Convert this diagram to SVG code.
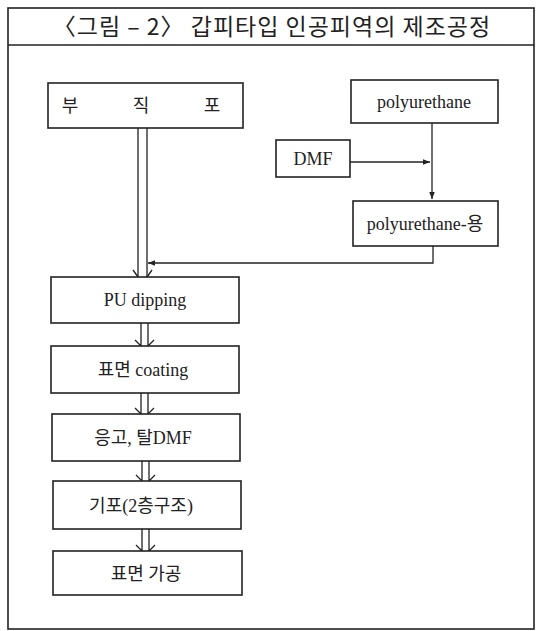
<svg xmlns="http://www.w3.org/2000/svg" width="544" height="631" viewBox="0 0 544 631">
<defs>
<marker id="ah" viewBox="0 0 10 10" refX="10" refY="5" markerWidth="7" markerHeight="7" orient="auto" markerUnits="userSpaceOnUse">
<path d="M0,1 L10,5 L0,9 z" fill="#222"/>
</marker>
<style>
.frame{fill:none;stroke:#222;stroke-width:1.6}
.box{fill:#fff;stroke:#222;stroke-width:1.6}
.ln{fill:none;stroke:#222;stroke-width:1.3}
.t{font-family:"Liberation Serif","Noto Sans CJK KR",serif;font-size:18px;fill:#222;text-anchor:middle}
.title{font-family:"Noto Sans CJK KR","Liberation Sans",sans-serif;font-size:23px;letter-spacing:1px;fill:#222;text-anchor:middle}
</style>
</defs>
<rect class="frame" x="8" y="8" width="526" height="621"/>
<line class="frame" x1="8" y1="45" x2="534" y2="45"/>
<text class="title" x="272" y="35">〈그림 – 2〉 갑피타입  인공피역의  제조공정</text>

<g id="connectors">
<path class="ln" d="M138,128 V277 M147,128 V277"/>
<path class="ln" d="M133,270 L138,277 M147,277 L152,270"/>
<path class="ln" d="M432,123 V199" marker-end="url(#ah)"/>
<path class="ln" d="M350,162 H430" marker-end="url(#ah)"/>
<path class="ln" d="M433,246 V263 H148" marker-end="url(#ah)"/>
<path class="ln" d="M141,323 V346 M148,323 V346 M135,340 L141,346 M148,346 L154,340"/>
<path class="ln" d="M141,393 V414 M148,393 V414 M135,408 L141,414 M148,414 L154,408"/>
<path class="ln" d="M142,461 V481 M149,461 V481 M136,475 L142,481 M149,481 L155,475"/>
<path class="ln" d="M142,529 V551 M149,529 V551 M136,545 L142,551 M149,551 L155,545"/>
</g>

<g id="n-bujikpo">
<rect class="box" x="48" y="83" width="195" height="45"/>
<text class="t" x="70" y="112">부</text>
<text class="t" x="141" y="112">직</text>
<text class="t" x="212" y="112">포</text>
</g>
<g id="n-polyurethane">
<rect class="box" x="351" y="80" width="147" height="43"/>
<text class="t" x="424" y="108">polyurethane</text>
</g>
<g id="n-dmf">
<rect class="box" x="276" y="140" width="74" height="37"/>
<text class="t" x="313" y="165">DMF</text>
</g>
<g id="n-pu-sol">
<rect class="box" x="353" y="201" width="145" height="45"/>
<text class="t" x="425" y="230">polyurethane-용</text>
</g>
<g id="n-pu-dipping">
<rect class="box" x="51" y="277" width="188" height="46"/>
<text class="t" x="145" y="306">PU dipping</text>
</g>
<g id="n-coating">
<rect class="box" x="51" y="346" width="188" height="47"/>
<text class="t" x="143" y="376">표면 coating</text>
</g>
<g id="n-coag">
<rect class="box" x="52" y="414" width="188" height="47"/>
<text class="t" x="143" y="444">응고, 탈DMF</text>
</g>
<g id="n-foam">
<rect class="box" x="53" y="481" width="188" height="48"/>
<text class="t" x="141" y="512">기포(2층구조)</text>
</g>
<g id="n-finish">
<rect class="box" x="53" y="551" width="189" height="44"/>
<text class="t" x="146" y="580">표면 가공</text>
</g>
</svg>
